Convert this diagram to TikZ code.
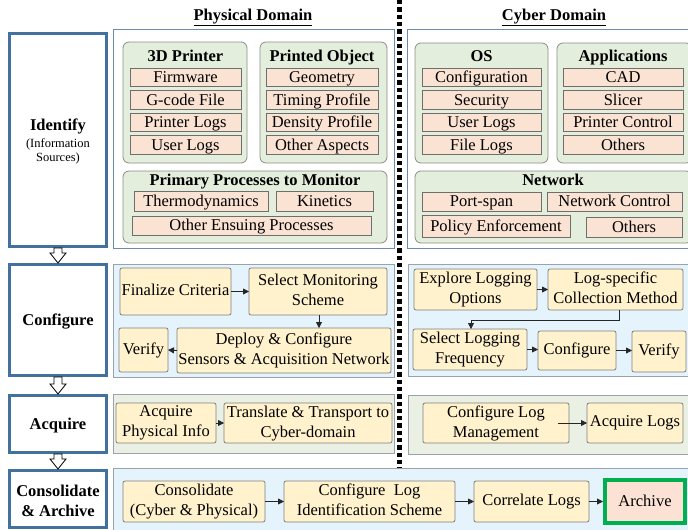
\documentclass[tikz,border=0pt]{standalone}
\usepackage{fontspec}
\setmainfont{Liberation Serif}
\usetikzlibrary{arrows.meta,calc}
\definecolor{stageblue}{HTML}{41719C}
\definecolor{panelblue}{HTML}{6A8CB0}
\definecolor{panelgray}{HTML}{9AA3AC}
\definecolor{grpfill}{HTML}{E3EEDC}
\definecolor{grpline}{HTML}{8A8F8A}
\definecolor{itemfill}{HTML}{FBE3D4}
\definecolor{itemline}{HTML}{6E6E6E}
\definecolor{cfgfill}{HTML}{E5F3FD}
\definecolor{acqfill}{HTML}{EAF1E4}
\definecolor{stepfill}{HTML}{FFF2CC}
\definecolor{stepline}{HTML}{7F7F7F}
\definecolor{archgreen}{HTML}{00B050}
\definecolor{archfill}{HTML}{FBE2D5}
\tikzset{
  bx/.style={inner sep=0pt, outer sep=0pt, align=center},
  stage/.style={bx, draw=stageblue, line width=3pt, fill=white},
  panelid/.style={bx, draw=panelblue, line width=0.9pt, fill=white},
  panelcfg/.style={bx, draw=panelgray, line width=0.9pt, fill=cfgfill},
  panelacq/.style={bx, draw=panelgray, line width=0.9pt, fill=acqfill},
  grp/.style={bx, draw=grpline, line width=0.8pt, fill=grpfill, rounded corners=6pt},
  item/.style={bx, draw=itemline, line width=0.8pt, fill=itemfill, text height=12.5pt, text depth=2.5pt},
  stepbox/.style={bx, draw=stepline, line width=0.8pt, fill=stepfill, rounded corners=2pt, text depth=3pt},
  archbox/.style={bx, draw=archgreen, line width=4pt, fill=archfill, text height=12.5pt, text depth=2.5pt},
  ttl/.style={font=\fontsize{16.5}{20}\selectfont\bfseries, inner sep=0pt, text height=12pt, text depth=3pt},
  conn/.style={draw=black!85, line width=0.8pt, -{Triangle[length=6pt,width=6pt]}},
  blockarrow/.style={draw=black, line width=0.8pt, fill=white, line join=miter},
}
\begin{document}
\begin{tikzpicture}[x=1pt,y=-1pt,font=\fontsize{16.5}{20}\selectfont]
\clip (0,0) rectangle (688,530);
\fill[white] (0,0) rectangle (688,530);

% headings
\node[ttl] (phh) at (253,16) {\underline{Physical Domain}};
\node[ttl] (cyh) at (554,16) {\underline{Cyber Domain}};

% separator
\coordinate (septop) at (399,0);
\coordinate (sepbot) at (399,468);
\draw[line width=5pt, dash pattern=on 4.3pt off 3pt] (septop) -- (sepbot);

% stage boxes
\node[stage, minimum width=97, minimum height=213] (id) at (58,140) {};
\node[stage, minimum width=97, minimum height=111] (cf) at (58,320) {};
\node[stage, minimum width=97, minimum height=57] (aq) at (58,424) {};
\node[stage, minimum width=97, minimum height=57] (ca) at (58,499) {};
\node[ttl] (idt) at (58,126) {Identify};
\node[bx, font=\fontsize{12.5}{14}\selectfont] (ids) at (58,151) {(Information\\Sources)};
\node[ttl] (cft) at (58,321) {Configure};
\node[ttl] (aqt) at (58,425) {Acquire};
\node[bx, font=\fontsize{16.5}{20}\selectfont\bfseries, text depth=3pt] (cat) at (58,502) {Consolidate\\\& Archive};

% block arrows
\foreach \a/\b in {id/cf, cf/aq, aq/ca}{
  \draw[blockarrow] ($(\a.south)+(-4,1.5)$) -- ($(\b.north)+(-4,-11.5)$) -- ++(-4,0)
    -- ($(\b.north)+(0,-1.5)$) -- ($(\b.north)+(8,-11.5)$) -- ++(-4,0)
    -- ($(\a.south)+(4,1.5)$) -- cycle;
}

% ===== Identify row =====
\node[panelid, minimum width=281, minimum height=219] (pid) at (253.5,138.5) {};
\node[panelid, minimum width=285, minimum height=219] (cid) at (549.5,138.5) {};

\node[grp, minimum width=124, minimum height=121] (g3d) at (185,102.5) {};
\node[grp, minimum width=127, minimum height=121] (gpo) at (323.5,102.5) {};
\node[grp, minimum width=264, minimum height=72] (gpp) at (255,207) {};
\node[grp, minimum width=133, minimum height=120] (gos) at (481.5,103) {};
\node[grp, minimum width=135, minimum height=120] (gap) at (624.5,103) {};
\node[grp, minimum width=277, minimum height=72] (gnw) at (553.5,207) {};

\node[ttl] (t3d) at (185.5,57) {3D Printer};
\node[ttl] (tpo) at (322,57) {Printed Object};
\node[ttl] (tpp) at (255,181) {Primary Processes to Monitor};
\node[ttl] (tos) at (481.5,57) {OS};
\node[ttl] (tap) at (623,57) {Applications};
\node[ttl] (tnw) at (553,181) {Network};

\node[item, minimum width=111, minimum height=18.5] (fw) at (185.5,77.5) {Firmware};
\node[item, minimum width=111, minimum height=18.5] (gc) at (185.5,100) {G-code File};
\node[item, minimum width=111, minimum height=18.5] (pl) at (185.5,122.5) {Printer Logs};
\node[item, minimum width=111, minimum height=18.5] (ul) at (185.5,145) {User Logs};

\node[item, minimum width=112, minimum height=18.5] (geo) at (322,77.5) {Geometry};
\node[item, minimum width=112, minimum height=18.5] (tp) at (322,100) {Timing Profile};
\node[item, minimum width=112, minimum height=18.5] (dp) at (322,122.5) {Density Profile};
\node[item, minimum width=112, minimum height=18.5] (oa) at (322,145) {Other Aspects};

\node[item, minimum width=134, minimum height=20] (thd) at (201,201) {Thermodynamics};
\node[item, minimum width=97, minimum height=20] (kin) at (324.5,201) {Kinetics};
\node[item, minimum width=239, minimum height=19] (oep) at (251.5,225.5) {Other Ensuing Processes};

\node[item, minimum width=119, minimum height=18.5] (cfgi) at (481.5,77.5) {Configuration};
\node[item, minimum width=119, minimum height=18.5] (sec) at (481.5,100) {Security};
\node[item, minimum width=119, minimum height=18.5] (oul) at (481.5,122.5) {User Logs};
\node[item, minimum width=119, minimum height=18.5] (fl) at (481.5,145) {File Logs};

\node[item, minimum width=120, minimum height=18.5] (cad) at (623,77.5) {CAD};
\node[item, minimum width=120, minimum height=18.5] (sli) at (623,100) {Slicer};
\node[item, minimum width=120, minimum height=18.5] (pc) at (623,122.5) {Printer Control};
\node[item, minimum width=120, minimum height=18.5] (aot) at (623,145) {Others};

\node[item, minimum width=119, minimum height=19] (ps) at (481.5,201.5) {Port-span};
\node[item, minimum width=135, minimum height=19] (nc) at (614.5,201.5) {Network Control};
\node[item, minimum width=148, minimum height=22] (pe) at (496,226) {Policy Enforcement};
\node[item, minimum width=96, minimum height=20] (not) at (634,227) {Others};

% ===== Configure row =====
\node[panelcfg, minimum width=281, minimum height=113] (pcf) at (253.5,320.5) {};
\node[panelcfg, minimum width=284, minimum height=112] (ccf) at (550,320) {};

\node[stepbox, minimum width=111, minimum height=47] (fc) at (175.5,291.5) {Finalize Criteria};
\node[stepbox, minimum width=138, minimum height=47] (sm) at (318,291.5) {Select Monitoring\\Scheme};
\node[stepbox, minimum width=49, minimum height=44] (ver) at (143.5,350) {Verify};
\node[stepbox, minimum width=214, minimum height=45] (dep) at (284,350.5) {Deploy \& Configure\\Sensors \& Acquisition Network};

\node[stepbox, minimum width=123, minimum height=41] (ex) at (475.5,289.5) {Explore Logging\\Options};
\node[stepbox, minimum width=135, minimum height=41] (ls) at (615.5,289.5) {Log-specific\\Collection Method};
\node[stepbox, minimum width=114, minimum height=41] (slf) at (470,349.5) {Select Logging\\Frequency};
\node[stepbox, minimum width=78, minimum height=39] (cfg) at (577,350.5) {Configure};
\node[stepbox, minimum width=54, minimum height=41] (ver2) at (659,351.5) {Verify};

\draw[conn] (fc.east) -- (sm.west);
\draw[conn] ([xshift=1pt]sm.south) -- ([xshift=1pt]sm.south |- dep.north);
\draw[conn] (dep.west) -- (ver.east);
\draw[conn] (ex.east) -- (ls.west);
\draw[conn] ([xshift=3.5pt]ls.south) -- ++(0,10) -| ([xshift=1pt]slf.north);
\draw[conn] (slf.east) -- (slf.east -| cfg.west);
\draw[conn] (cfg.east) -- (cfg.east -| ver2.west);

% ===== Acquire row =====
\node[panelacq, minimum width=281, minimum height=59] (paq) at (253.5,423.5) {};
\node[panelacq, minimum width=284, minimum height=59] (caq) at (550,424.5) {};

\node[stepbox, minimum width=100, minimum height=40] (api) at (166,423) {Acquire\\Physical Info};
\node[stepbox, minimum width=168, minimum height=40] (tr) at (308,423) {Translate \& Transport to\\Cyber-domain};
\node[stepbox, minimum width=146, minimum height=40] (clm) at (496,423) {Configure Log\\Management};
\node[stepbox, minimum width=96, minimum height=40] (al) at (635,423) {Acquire Logs};

\draw[conn] (api.east) -- (tr.west);
\draw[conn] ([xshift=-11pt]clm.east) -- (al.west);

% ===== Consolidate row =====
\node[panelcfg, minimum width=579, minimum height=67] (pca) at (402.5,501.5) {};
\node[stepbox, minimum width=142, minimum height=41] (cons) at (194,501.5) {Consolidate\\(Cyber \& Physical)};
\node[stepbox, minimum width=171, minimum height=41] (cli) at (369.5,501.5) {Configure~ Log\\Identification Scheme};
\node[stepbox, minimum width=115, minimum height=41] (cor) at (531.5,501.5) {Correlate Logs};
\node[archbox, minimum width=80, minimum height=43] (arch) at (645,501.5) {Archive};

\draw[conn] (cons.east) -- (cli.west);
\draw[conn] (cli.east) -- (cor.west);
\draw[conn, shorten >=2pt] (cor.east) -- (arch.west);
\end{tikzpicture}
\end{document}
